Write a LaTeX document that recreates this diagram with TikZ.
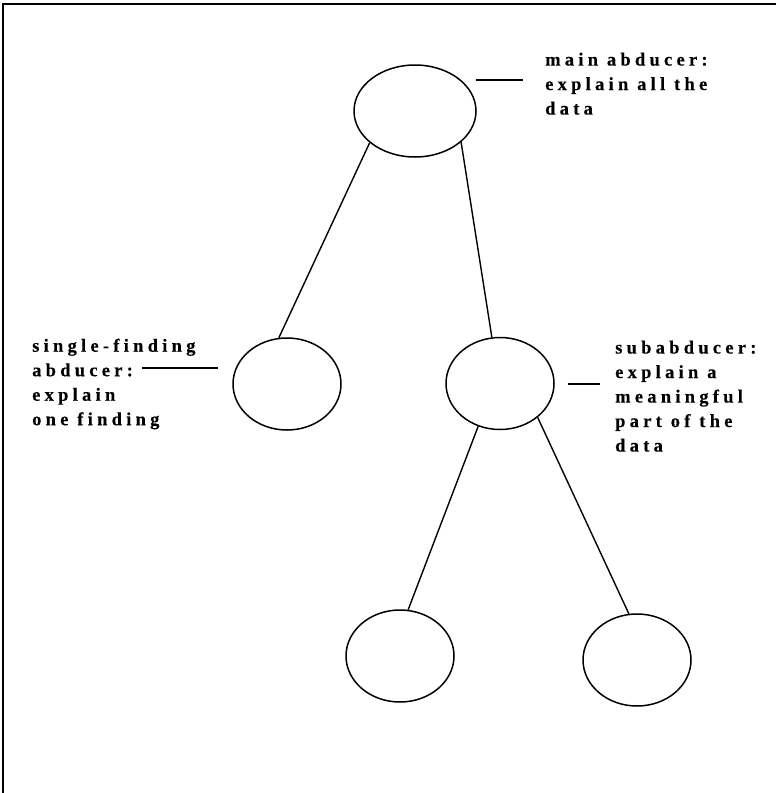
\documentclass[tikz,border=0pt]{standalone}
\usepackage{fontspec}
\setmainfont{Liberation Serif}
\newfontfamily\labelfont[LetterSpace=23,FakeBold=0.3]{Liberation Serif}
\usetikzlibrary{shapes.geometric}
\begin{document}
\begin{tikzpicture}[x=1pt,y=-1pt,
  role/.style={ellipse,draw,line width=1.5pt,inner sep=0pt,
    minimum width=108pt,minimum height=92pt},
  edge/.style={line width=1.4pt},
  tick/.style={line width=1.6pt},
  caption/.style={anchor=north west,inner sep=0pt,align=left,
    font=\labelfont\bfseries\fontsize{18.5}{24.5}\selectfont}]
\useasboundingbox (0,0) rectangle (776,793);
% open frame: top and left rules only
\draw[line width=2pt] (3,793) -- (3,4) -- (776,4);

% abducer nodes
\node[role,minimum width=122pt] (main) at (415,111) {};
\node[role] (single) at (287,384) {};
\node[role] (sub) at (500,383.5) {};
\node[role] (leafA) at (400,656) {};
\node[role] (leafB) at (637,660) {};

% tree edges
\draw[edge] (main.215) -- (single.100);
\draw[edge] (main.326) -- (sub.100);
\draw[edge] (sub.243) -- (leafA.80);
\draw[edge] (sub.318) -- (leafB.100);

% captions with their leader ticks
\coordinate (tmainA) at (476,80);
\coordinate (tmainB) at (523,80);
\draw[tick] (tmainA) -- (tmainB);
\node[caption] (cmain) at (545,52.5) {main abducer:\\explain all the\\data};

\coordinate (tsingA) at (142,368);
\coordinate (tsingB) at (218,368);
\draw[tick] (tsingA) -- (tsingB);
\node[caption] (csing) at (32,338.5) {single-finding\\abducer:\\explain\\one finding};

\coordinate (tsubA) at (568,384);
\coordinate (tsubB) at (600,384);
\draw[tick] (tsubA) -- (tsubB);
\node[caption] (csub) at (615,340.5) {subabducer:\\explain a\\meaningful\\part of the\\data};
\end{tikzpicture}
\end{document}
